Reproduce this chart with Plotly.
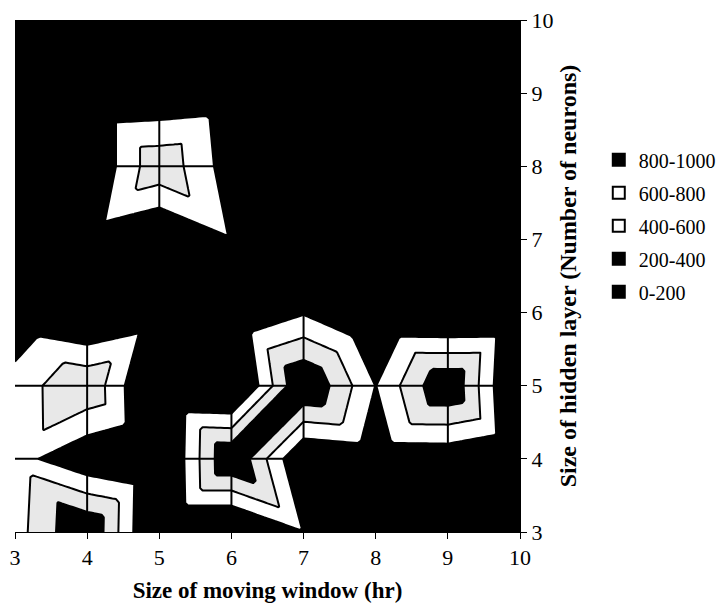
import numpy as np
import plotly.graph_objects as go

# ---------------- data ----------------
window_hr = [3, 4, 5, 6, 7, 8, 9, 10]          # x: size of moving window
hidden_neurons = [3, 4, 5, 6, 7, 8, 9, 10]     # y: size of hidden layer

# surface values, one row per hidden-layer size, columns follow window_hr
z_h3 = [690, 180, 1150, 1150, 810, 1100, 1100, 1100]
z_h4 = [715, 980, 1130, 180, 1044, 970, 960, 1100]
z_h5 = [711, 420, 1150, 1180, 170, 805, 190, 1150]
z_h6 = [981, 1100, 950, 1030, 820, 1100, 1110, 1100]
z_h7 = [1100, 918, 1080, 818, 1100, 1100, 1100, 1100]
z_h8 = [1100, 1040, 440, 915, 1100, 1100, 1100, 1100]
z_h9 = [1100, 1040, 1010, 960, 1100, 1100, 1100, 1100]
z_h10 = [1100, 1100, 1100, 1100, 1100, 1100, 1100, 1100]

band_labels = ["800-1000", "600-800", "400-600", "200-400", "0-200"]

# ---------------- styles ----------------
band_colors = ["black", "white", "white", "black", "black"]
GRAY = "#e8e8e8"
FONT = "Liberation Serif, Times New Roman, serif"

Z = np.array([z_h3, z_h4, z_h5, z_h6, z_h7, z_h8, z_h9, z_h10], dtype=float)
xs = np.array(window_hr, dtype=float)
ys = np.array(hidden_neurons, dtype=float)


def spreadsheet_surface(xs, ys, Z, n=20):
    """Resample the grid the way a spreadsheet surface chart draws it:
    every cell split into four triangles meeting at a centre value."""
    nx, ny = len(xs), len(ys)
    fx = np.linspace(xs[0], xs[-1], (nx - 1) * n + 1)
    fy = np.linspace(ys[0], ys[-1], (ny - 1) * n + 1)
    F = np.empty((len(fy), len(fx)))
    for jj, yv in enumerate(fy):
        j = min(int(np.searchsorted(ys, yv, side="right")) - 1, ny - 2)
        v = (yv - ys[j]) / (ys[j + 1] - ys[j])
        for ii, xv in enumerate(fx):
            i = min(int(np.searchsorted(xs, xv, side="right")) - 1, nx - 2)
            u = (xv - xs[i]) / (xs[i + 1] - xs[i])
            a, b = Z[j, i], Z[j, i + 1]
            c, d = Z[j + 1, i + 1], Z[j + 1, i]
            m = min((a + c) / 2.0, (b + d) / 2.0)
            if v <= u and v <= 1 - u:
                f = a + (b - a) * u + (2 * m - a - b) * v
            elif v >= u and v >= 1 - u:
                f = d + (c - d) * u + (2 * m - c - d) * (1 - v)
            elif u <= v:
                f = a + (d - a) * v + (2 * m - a - d) * u
            else:
                f = b + (c - b) * v + (2 * m - b - c) * (1 - u)
            F[jj, ii] = f
    return fx, fy, F


fx, fy, F = spreadsheet_surface(xs, ys, Z)

fig = go.Figure()
fig.add_trace(go.Contour(
    x=fx, y=fy, z=F,
    autocontour=False,
    contours=dict(start=200, end=800, size=200, coloring="fill"),
    colorscale=[[0, "black"], [0.25, "black"], [0.5, GRAY], [0.75, "white"], [1, "black"]],
    line=dict(color="black", width=2, smoothing=0),
    showscale=False, hoverinfo="skip", showlegend=False,
))

for lab, col in zip(band_labels, band_colors):
    fig.add_trace(go.Scatter(
        x=[None], y=[None], mode="markers", name=lab, legendgroup=lab,
        marker=dict(symbol="square", size=15, color=col,
                    line=dict(color="black", width=1.2)),
        hoverinfo="skip",
    ))

shapes = []
for xv in window_hr[1:-1]:
    shapes.append(dict(type="line", xref="x", yref="paper", x0=xv, x1=xv, y0=0, y1=1,
                       line=dict(color="black", width=2), layer="above"))
for yv in hidden_neurons[1:-1]:
    shapes.append(dict(type="line", xref="paper", yref="y", x0=0, x1=1, y0=yv, y1=yv,
                       line=dict(color="black", width=2), layer="above"))

fig.update_layout(
    width=723, height=609,
    margin=dict(l=15, r=203, t=20, b=77, autoexpand=False),
    paper_bgcolor="white", plot_bgcolor="black",
    font=dict(family=FONT, size=22, color="black"),
    shapes=shapes,
    showlegend=True,
    xaxis=dict(
        range=[3, 10], tickmode="array", tickvals=window_hr,
        ticks="outside", ticklen=6, tickwidth=1, tickcolor="black",
        showgrid=False, zeroline=False, showline=True, linecolor="black", linewidth=1,
        tickfont=dict(family=FONT, size=22), automargin=False,
        title=dict(text="<b>Size of moving window (hr)</b>", font=dict(family=FONT, size=23), standoff=12),
    ),
    yaxis=dict(
        range=[3, 10], side="right", tickmode="array", tickvals=hidden_neurons,
        ticks="outside", ticklen=6, tickwidth=1, tickcolor="black",
        showgrid=False, zeroline=False, showline=True, linecolor="black", linewidth=1,
        tickfont=dict(family=FONT, size=22), automargin=False,
        title=dict(text="<b>Size of hidden layer (Number of neurons)</b>", font=dict(family=FONT, size=24), standoff=6),
    ),
    legend=dict(x=1.156, xanchor="left", y=0.765, yanchor="top",
                font=dict(family=FONT, size=20), tracegroupgap=4,
                itemsizing="constant", bgcolor="rgba(0,0,0,0)"),
)

fig.write_html("out.html")
